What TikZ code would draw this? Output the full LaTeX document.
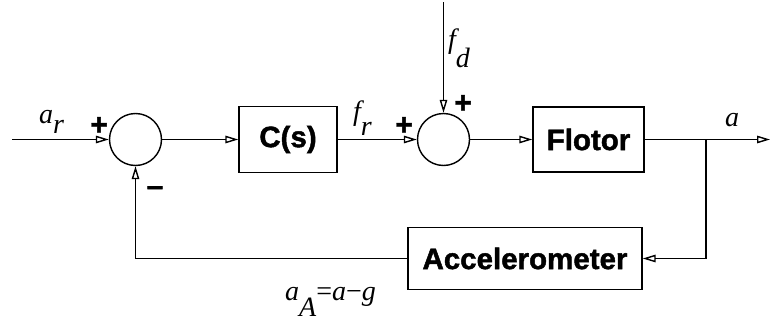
\documentclass[tikz,border=0pt]{standalone}
\usepackage{fontspec}
\setsansfont{Liberation Sans}[BoldFeatures={FakeBold=1.5}]
\newfontfamily\lblfont{Liberation Serif}
\usetikzlibrary{arrows.meta}
\tikzset{
    blk/.style={draw=black, rectangle, line width=1.4pt, font=\sffamily\bfseries\fontsize{29.5}{30}\selectfont},
    sumnode/.style={draw=black, circle, line width=1.4pt, minimum size=52pt, inner sep=0pt},
    sgn/.style={font=\sffamily\bfseries\fontsize{30}{30}\selectfont, inner sep=0pt},
    lbl/.style={font=\lblfont\itshape\fontsize{28}{30}\selectfont, inner sep=0pt, anchor=base west},
    sig/.style={line width=1.4pt, -{Triangle[open, length=13pt, width=7.5pt, line width=1.4pt]}}
}
\begin{document}
\begin{tikzpicture}[x=1pt, y=-1pt]
    \useasboundingbox (0,0) rectangle (771,324);
    %   Define the summing points and the blocks of the loop
    \node[sumnode] (sumIn) at (135.5,139.5) {};
    \node[blk, minimum width=98pt, minimum height=66pt] (ctrl) at (288,139.5) {C(s)};
    \node[sumnode] (sumDist) at (443.5,139.5) {};
    \node[blk, minimum width=111pt, minimum height=65pt] (flotor) at (588.5,139.5) {Flotor};
    \node[blk, minimum width=234pt, minimum height=62pt] (accel) at (525,258.5) {Accelerometer};
    %   Free ends of the signals
    \coordinate (ar) at (12,139.5);
    \coordinate (fd) at (443.5,2);
    \coordinate (tap) at (706,139.5);
    \coordinate (out) at (770,139.5);
    %   Signals
    \draw[sig] (ar) -- (sumIn.west);
    \draw[sig] (sumIn.east) -- (ctrl.west);
    \draw[sig] (ctrl.east) -- (sumDist.west);
    \draw[sig] (fd) -- (sumDist.north);
    \draw[sig] (sumDist.east) -- (flotor.west);
    \draw[sig] (flotor.east) -- (out);
    \draw[sig] (tap) |- (accel.east);
    \draw[sig] (accel.west) -| (sumIn.south);
    %   Signs at the summing points
    \node[sgn] (pIn) at (99,126) {+};
    \node[sgn] (mIn) at (155,191) {–};
    \node[sgn] (pR) at (404,126) {+};
    \node[sgn] (pD) at (463,104) {+};
    %   Signal names
    \node[lbl] (arLbl) at (39,123) {a\raisebox{-10pt}{r}};
    \node[lbl] (frLbl) at (353,120) {f\raisebox{-15pt}{r}};
    \node[lbl] (fdLbl) at (448,48) {f\raisebox{-19pt}{d}};
    \node[lbl] (aLbl) at (725,126) {a};
    \node[lbl] (aALbl) at (285,300) {a\raisebox{-16pt}{A}\upshape=\itshape a\upshape−\itshape g};
\end{tikzpicture}
\end{document}
